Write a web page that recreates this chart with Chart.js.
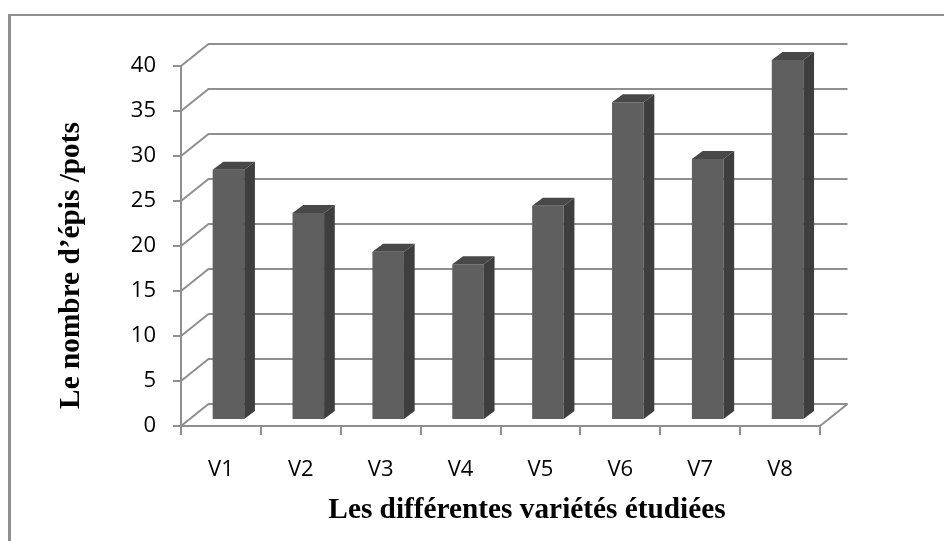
<!DOCTYPE html>
<html>
<head>
<meta charset="utf-8">
<script src="https://cdn.jsdelivr.net/npm/chart.js@4/dist/chart.umd.min.js"></script>
<style>
html, body { margin: 0; padding: 0; background: #fff; }
#wrap { position: relative; width: 944px; height: 541px; overflow: hidden; }
#frame { position: absolute; left: 8px; top: 14px; width: 1000px; height: 600px; border-left: 3px solid #8f8f8f; border-top: 2px solid #8f8f8f; }
canvas { position: relative; }
</style>
</head>
<body>
<div id="wrap">
  <div id="frame"></div>
  <canvas id="chart" width="944" height="541"></canvas>
</div>
<script>
const categories = ['V1', 'V2', 'V3', 'V4', 'V5', 'V6', 'V7', 'V8'];
const epis = [27.8, 23, 18.7, 17.3, 23.8, 35.3, 29, 40];
const xTitle = 'Les différentes variétés étudiées';
const yTitle = 'Le nombre d’épis /pots';

// depth of the fake 3D box
const WALL_DX = 27.5, WALL_DY = -22;
const BAR_DX = 7.5, BAR_DY = -6;
const SIDE_DX = 10.7, SIDE_DY = -8;
const LINE = '#8f8f8f';
const TITLE_FONT = 'bold 29.3px "Liberation Serif"';

const walls = {
    id: 'walls',
    beforeDatasetsDraw(chart) {
        const { ctx, chartArea: a, scales: { y } } = chart;
        ctx.save();
        ctx.strokeStyle = LINE;
        ctx.lineWidth = 2;
        y.ticks.forEach(t => {
            const py = y.getPixelForValue(t.value);
            ctx.beginPath();
            ctx.moveTo(a.left, py);
            ctx.lineTo(a.left + WALL_DX, py + WALL_DY);
            ctx.lineTo(a.right + WALL_DX, py + WALL_DY);
            ctx.stroke();
        });
        ctx.beginPath();
        ctx.moveTo(a.right, a.bottom);
        ctx.lineTo(a.right + WALL_DX, a.bottom + WALL_DY);
        ctx.stroke();
        ctx.restore();
    },
    beforeDatasetDraw(chart) {
        chart.ctx.save();
        chart.ctx.translate(BAR_DX, BAR_DY);
    },
    afterDatasetDraw(chart, args) {
        const ctx = chart.ctx;
        chart.getDatasetMeta(args.index).data.forEach(bar => {
            const l = bar.x - bar.width / 2, r = bar.x + bar.width / 2;
            ctx.fillStyle = '#3e3e3e';
            ctx.beginPath();
            ctx.moveTo(r, bar.y);
            ctx.lineTo(r + SIDE_DX, bar.y + SIDE_DY);
            ctx.lineTo(r + SIDE_DX, bar.base + SIDE_DY);
            ctx.lineTo(r, bar.base);
            ctx.fill();
            ctx.fillStyle = '#484848';
            ctx.beginPath();
            ctx.moveTo(l, bar.y);
            ctx.lineTo(l + SIDE_DX, bar.y + SIDE_DY);
            ctx.lineTo(r + SIDE_DX, bar.y + SIDE_DY);
            ctx.lineTo(r, bar.y);
            ctx.fill();
        });
        ctx.restore();
    },
    // the titles are not centred on the plot, so the scale titles can't be used
    afterDraw(chart) {
        const ctx = chart.ctx;
        ctx.save();
        ctx.fillStyle = '#000';
        ctx.font = TITLE_FONT;
        ctx.textAlign = 'center';
        ctx.textBaseline = 'alphabetic';
        ctx.fillText(xTitle, 527, 518);
        ctx.translate(79, 265.5);
        ctx.rotate(-Math.PI / 2);
        ctx.fillText(yTitle, 0, 0);
        ctx.restore();
    }
};

new Chart(document.getElementById('chart').getContext('2d'), {
    type: 'bar',
    data: {
        labels: categories,
        datasets: [{
            data: epis,
            backgroundColor: '#5f5f5f',
            barPercentage: 0.395,
            categoryPercentage: 1
        }]
    },
    options: {
        responsive: false,
        animation: false,
        layout: { padding: { left: 50, top: 66, right: 124, bottom: 0 } },
        plugins: { legend: { display: false }, tooltip: { enabled: false } },
        scales: {
            x: {
                grid: { drawOnChartArea: false, color: LINE, lineWidth: 2, tickLength: 9, offset: true },
                border: { color: LINE, width: 2 },
                ticks: { color: '#000', font: { family: 'Open Sans', size: 22 }, padding: 22 },
                afterFit(s) { s.height = 115; }
            },
            y: {
                min: 0,
                max: 40,
                grid: { drawOnChartArea: false, color: LINE, lineWidth: 2, tickLength: 8 },
                border: { color: LINE, width: 2 },
                ticks: { stepSize: 5, color: '#000', font: { family: 'Open Sans', size: 22 }, padding: 17 },
                afterFit(s) { s.width = 131; }
            }
        }
    },
    plugins: [walls]
});
</script>
</body>
</html>
